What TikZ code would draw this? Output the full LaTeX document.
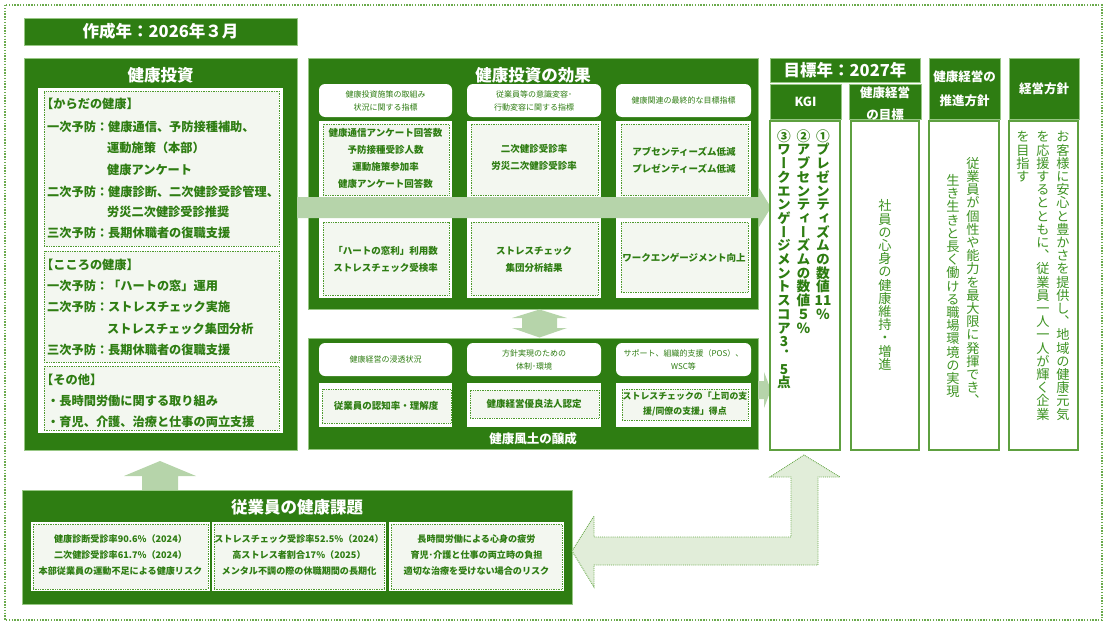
\documentclass[tikz,border=0pt]{standalone}
\usepackage{fontspec}
\setmainfont{Noto Sans CJK JP}
\newfontfamily\jpv[RawFeature=+vert]{Noto Sans CJK JP}
\definecolor{dg}{HTML}{2E7D12}
\definecolor{lb}{HTML}{97C784}
\definecolor{bandc}{HTML}{B6D4AA}
\definecolor{pale}{HTML}{F3F7F0}
\definecolor{dotc}{HTML}{4E9A2E}
\definecolor{mg}{HTML}{5EA040}
\definecolor{lg}{HTML}{3F9424}
\definecolor{lfill}{HTML}{E1EDD9}
\definecolor{ldot}{HTML}{6AAA4C}

\ExplSyntaxOn
\NewDocumentCommand\vtext{m}{
  \vtop{\offinterlineskip
    \tl_map_inline:nn {#1} {\hbox_to_wd:nn {1.1em} {\hss\rule[-0.12em]{0pt}{1em}##1\hss}}}
}
\ExplSyntaxOff

\newcommand\bx[6]{\pgfmathsetmacro\bw{#5-#3}\pgfmathsetmacro\bh{#6-#4}%
  \node[#2,inner sep=0pt,outer sep=0pt,minimum width=\bw pt,minimum height=\bh pt,anchor=north west] (#1) at (#3,#4) {};}

\begin{document}
\begin{tikzpicture}[x=1pt,y=-1pt,
  darkbox/.style={fill=dg,draw=lb,line width=0.8pt},
  panel/.style={fill=white,draw=none},
  dotbox/.style={fill=pale,draw=dotc,densely dotted,line width=0.7pt},
  hdr/.style={fill=white,draw=none,rounded corners=6pt},
  wbox/.style={fill=white,draw=mg,line width=1.1pt},
  ttl/.style={text=white,font=\bfseries\fontsize{16.5}{18}\selectfont,inner sep=0pt},
  htl/.style={text=white,font=\bfseries\fontsize{12.5}{24}\selectfont,inner sep=0pt,align=center},
  lst/.style={text=dg,font=\bfseries\fontsize{12.2}{14}\selectfont,anchor=west,inner sep=0pt},
  sm/.style={text=dg,font=\bfseries\fontsize{9.5}{17}\selectfont,align=center,inner sep=0pt},
  bsm/.style={text=dg,font=\bfseries\fontsize{9.1}{16}\selectfont,align=center,inner sep=0pt},
  tiny/.style={text=dg,font=\fontsize{8}{13}\selectfont,align=center,inner sep=0pt},
  kgi/.style={text=dg,font=\jpv\bfseries\fontsize{13.7}{13.7}\selectfont,inner sep=0pt,anchor=north},
  vt/.style={text=lg,font=\jpv\fontsize{13.2}{13.2}\selectfont,inner sep=0pt},
  bandf/.style={fill=bandc,draw=none}
]
\path[use as bounding box] (0,0) rectangle (1107,626);

% outer dotted frame
\draw[ldot, line width=1.4pt, dash pattern=on 1.4pt off 1.4pt] (5,5) rectangle (1102,620);

% title bar
\bx{tbar}{darkbox}{24}{18}{297}{45}
\node[ttl] (ttitle) at (tbar.center) {作成年：2026年３月};

% ---------- 健康投資 ----------
\bx{inv}{darkbox}{24}{58}{297}{450}
\node[ttl] (invt) at (160.5,75) {健康投資};
\bx{invp}{panel}{38}{88}{283}{433}
\bx{d1}{dotbox}{44}{91}{279}{246}
\bx{d2}{dotbox}{44}{251}{279}{362}
\bx{d3}{dotbox}{44}{366}{279}{430}

\node[lst] (a1) at (41,104) {【からだの健康】};
\node[lst] (a2) at (47,127) {一次予防：健康通信、予防接種補助、};
\node[lst] (a3) at (107,148) {運動施策（本部）};
\node[lst] (a4) at (107,170) {健康アンケート};
\node[lst] (a5) at (47,192) {二次予防：健康診断、二次健診受診管理、};
\node[lst] (a6) at (107,212) {労災二次健診受診推奨};
\node[lst] (a7) at (47,233) {三次予防：長期休職者の復職支援};

\node[lst] (b1) at (41,265) {【こころの健康】};
\node[lst] (b2) at (47,286) {一次予防：「ハートの窓」運用};
\node[lst] (b3) at (47,307) {二次予防：ストレスチェック実施};
\node[lst] (b4) at (107,329) {ストレスチェック集団分析};
\node[lst] (b5) at (47,350) {三次予防：長期休職者の復職支援};

\node[lst] (c1) at (41,380) {【その他】};
\node[lst] (c2) at (47,401) {・長時間労働に関する取り組み};
\node[lst] (c3) at (47,422) {・育児、介護、治療と仕事の両立支援};

% ---------- 健康投資の効果 ----------
\bx{eff}{darkbox}{308}{58}{758}{309}
\node[ttl] (efft) at (533,75) {健康投資の効果};
\bx{h1}{hdr}{319}{84}{452}{117}
\bx{h2}{hdr}{467}{84}{601}{117}
\bx{h3}{hdr}{616}{84}{751}{117}
\node[tiny] (h1t) at (h1.center) {健康投資施策の取組み\\状況に関する指標};
\node[tiny] (h2t) at (h2.center) {従業員等の意識変容･\\行動変容に関する指標};
\node[tiny] (h3t) at (h3.center) {健康関連の最終的な目標指標};

\bx{p1}{panel}{319}{121}{452}{298}
\bx{p2}{panel}{467}{121}{601}{298}
\bx{p3}{panel}{616}{121}{751}{298}
\bx{r1a}{dotbox}{323}{124}{449}{195}
\bx{r1b}{dotbox}{471}{124}{598}{195}
\bx{r1c}{dotbox}{621}{124}{748}{195}
\bx{r2a}{dotbox}{323}{222}{449}{295}
\bx{r2b}{dotbox}{471}{222}{598}{295}
\bx{r2c}{dotbox}{621}{222}{748}{292}

\node[sm] (r1at) at (385.5,158) {健康通信アンケート回答数\\予防接種受診人数\\運動施策参加率\\健康アンケート回答数};
\node[sm] (r1bt) at (534,157) {二次健診受診率\\労災二次健診受診率};
\node[sm] (r1ct) at (684,160) {アブセンティーズム低減\\プレゼンティーズム低減};
\node[sm] (r2at) at (385.5,259) {「ハートの窓利」利用数\\ストレスチェック受検率};
\node[sm] (r2bt) at (534,259) {ストレスチェック\\集団分析結果};
\node[sm] (r2ct) at (684,258) {ワークエンゲージメント向上};

% big horizontal band arrow
\fill[bandf] (297,197) -- (759,197) -- (759,188) -- (771,207.5) -- (759,227) -- (759,218) -- (297,218) -- cycle;

% double vertical arrow
\fill[bandf] (539.5,309.5) -- (567,318) -- (557,318) -- (557,328) -- (567,328) -- (539.5,337.5) -- (512,328) -- (522,328) -- (522,318) -- (512,318) -- cycle;

% ---------- 健康風土の醸成 ----------
\bx{cul}{darkbox}{308}{338}{758}{449}
\bx{k1}{hdr}{319}{343}{452}{376}
\bx{k2}{hdr}{467}{343}{601}{376}
\bx{k3}{hdr}{616}{343}{751}{376}
\node[tiny] (k1t) at (k1.center) {健康経営の浸透状況};
\node[tiny] (k2t) at (k2.center) {方針実現のための\\体制･環境};
\node[tiny] (k3t) at (k3.center) {サポート、組織的支援（POS）、\\WSC等};
\bx{q1}{panel}{319}{383}{452}{427}
\bx{q2}{panel}{467}{383}{601}{427}
\bx{q3}{panel}{616}{383}{751}{427}
\bx{s1}{dotbox}{322}{389}{451}{423}
\bx{s2}{dotbox}{470}{390}{599}{418}
\bx{s3}{dotbox}{622}{389}{748}{420}
\node[sm] (s1t) at (386,406) {従業員の認知率・理解度};
\node[sm,font=\bfseries\fontsize{9.5}{15}\selectfont] (s2t) at (534,404) {健康経営優良法人認定};
\node[sm,font=\bfseries\fontsize{8.9}{15}\selectfont] (s3t) at (685,404.5) {ストレスチェックの「上司の支\\援/同僚の支援」得点};
\node[text=white,font=\bfseries\fontsize{12.5}{14}\selectfont,inner sep=0pt] (cult) at (533,439) {健康風土の醸成};

% small arrow to KGI
\fill[bandf] (758,381) -- (764,381) -- (764,372) -- (771,390) -- (764,408) -- (764,399) -- (758,399) -- cycle;

% ---------- right columns ----------
\bx{gbar}{darkbox}{770}{58}{920}{82}
\node[ttl] (gbart) at (gbar.center) {目標年：2027年};
\bx{kgih}{darkbox}{770}{84}{841}{119}
\node[htl] (kgiht) at (kgih.center) {KGI};
\bx{mkh}{darkbox}{849}{84}{921}{119}
\begin{scope}
\clip (849,84) rectangle (921,119);
\node[htl] (mkht1) at (885,93) {健康経営};
\node[htl] (mkht2) at (885,115) {の目標};
\end{scope}
\bx{sph}{darkbox}{929}{58}{1000}{119}
\node[htl] (spht) at (sph.center) {健康経営の\\推進方針};
\bx{kph}{darkbox}{1009}{58}{1079}{119}
\node[htl] (kpht) at (kph.center) {経営方針};

\bx{kgib}{wbox}{770}{121}{840}{450}
\bx{mkb}{wbox}{851}{121}{919}{450}
\bx{spb}{wbox}{929}{121}{999}{450}
\bx{kpb}{wbox}{1009}{121}{1078}{450}

\node[kgi] (g1) at (823,129) {\vtext{①プレゼンティズムの数値{11}％}};
\node[kgi] (g2) at (803.5,129) {\vtext{②アブセンティーズムの数値５％}};
\node[kgi] (g3) at (784,129) {\vtext{③ワークエンゲージメントスコア3．5点}};

\node[vt] (m1) at (885,285) {\vtext{社員の心身の健康維持・増進}};

\node[vt] (sp1) at (973,282) {\vtext{従業員が個性や能力を最大限に発揮でき、}};
\node[vt] (sp2) at (953,286) {\vtext{生き生きと長く働ける職場環境の実現}};

\node[vt,anchor=north] (kp1) at (1063,130) {\vtext{お客様に安心と豊かさを提供し、地域の健康元気}};
\node[vt,anchor=north] (kp2) at (1043,130) {\vtext{を応援するとともに、従業員一人一人が輝く企業}};
\node[vt,anchor=north] (kp3) at (1023,130) {\vtext{を目指す}};

% ---------- 従業員の健康課題 ----------
\fill[bandf] (160,461) -- (196,476) -- (178,476) -- (178,490) -- (142,490) -- (142,476) -- (124,476) -- cycle;
\bx{emp}{darkbox}{22}{490}{572}{604}
\node[ttl] (empt) at (297,507) {従業員の健康課題};
\bx{e1}{panel}{31}{522}{210}{591}
\bx{e2}{panel}{212}{522}{386}{591}
\bx{e3}{panel}{389}{522}{564}{591}
\bx{f1}{dotbox}{33}{524}{208}{589}
\bx{f2}{dotbox}{214}{524}{384}{589}
\bx{f3}{dotbox}{391}{524}{562}{589}
\node[bsm] (f1t) at (120.5,555.5) {健康診断受診率90.6\%（2024）\\二次健診受診率61.7\%（2024）\\本部従業員の運動不足による健康リスク};
\node[bsm] (f2t) at (299,555.5) {ストレスチェック受診率52.5\%（2024）\\高ストレス者割合17\%（2025）\\メンタル不調の際の休職期間の長期化};
\node[bsm] (f3t) at (476.5,555.5) {長時間労働による心身の疲労\\育児･介護と仕事の両立時の負担\\適切な治療を受けない場合のリスク};

% L-shaped feedback arrow
\draw[fill=lfill, draw=ldot, densely dotted, line width=0.9pt]
  (572,551) -- (594,516) -- (594,537) -- (791,537) -- (791,477) -- (770,477) -- (804,455) -- (840,477) -- (818,477) -- (818,565) -- (594,565) -- (594,587) -- cycle;
\end{tikzpicture}
\end{document}
